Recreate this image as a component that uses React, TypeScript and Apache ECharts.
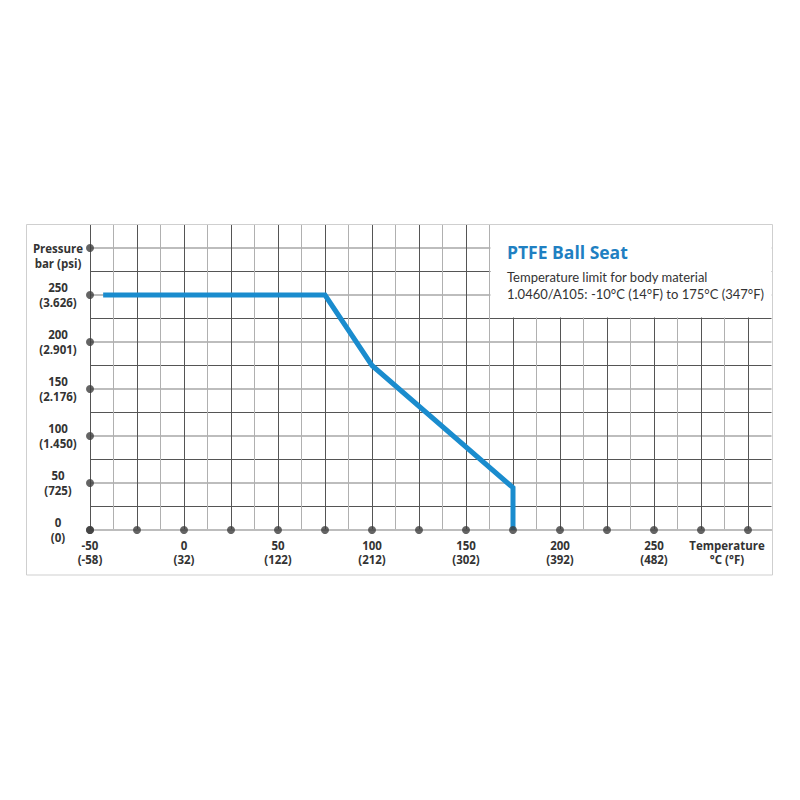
import React, { useEffect, useRef } from "react";
import * as echarts from "echarts";

// Axis ticks (°C and bar) and their secondary unit labels
const tempTicksC = [-50, -25, 0, 25, 50, 75, 100, 125, 150, 175, 200, 225, 250, 275, 300];
const tempLabelValues = [-50, 0, 50, 100, 150, 200, 250];
const tempLabelsF = ["(-58)", "(32)", "(122)", "(212)", "(302)", "(392)", "(482)"];
const pressureTicksBar = [0, 50, 100, 150, 200, 250, 300];
const pressureLabelValues = [0, 50, 100, 150, 200, 250];
const pressureLabelsPsi = ["(0)", "(725)", "(1.450)", "(2.176)", "(2.901)", "(3.626)"];

// Pressure/temperature curve
const curveTemp = [-43, 75, 100, 175, 175];
const curvePressure = [250, 250, 175, 45, 0];

const titleText = "PTFE Ball Seat";
const noteLines = [
  "Temperature limit for body material",
  "1.0460/A105: -10°C (14°F) to 175°C (347°F)",
];

const LABEL_FONT = "'Open Sans', Lato, sans-serif";
const TEXT_FONT = "Lato, 'Open Sans', sans-serif";

export default function App() {
  const ref = useRef<HTMLDivElement>(null);
  useEffect(() => {
    if (!ref.current) return;
    const chart = echarts.init(ref.current, undefined, { renderer: "svg" });

    const dots: number[][] = [];
    tempTicksC.forEach((t) => dots.push([t, 0]));
    pressureTicksBar.forEach((p) => dots.push([-50, p]));

    const labelBase = {
      color: "#333",
      fontFamily: LABEL_FONT,
      fontWeight: "bold",
      fontSize: 11.5,
    };

    const option: any = {
      animation: false,
      backgroundColor: "#fff",
      grid: {
        left: 90,
        right: 28.5,
        top: 224.5,
        bottom: 270,
        containLabel: false,
        outerBoundsMode: "none",
      },
      xAxis: {
        type: "value",
        min: -50,
        max: 312.5,
        interval: 12.5,
        axisLine: { show: true, lineStyle: { color: "#bdbdbd", width: 2 } },
        axisTick: { show: false },
        splitLine: {
          show: true,
          showMaxLine: false,
          lineStyle: { color: ["#555", "#b0b0b0"], width: 1 },
        },
        axisLabel: {
          ...labelBase,
          margin: 8,
          lineHeight: 14,
          showMaxLabel: false,
          hideOverlap: false,
          formatter: (v: number) => {
            const i = tempLabelValues.indexOf(v);
            if (i >= 0) return v + "\n" + tempLabelsF[i];
            if (v === 300) return "{t|Temperature}\n{t|°C (°F)}";
            return "";
          },
          rich: {
            t: {
              ...labelBase,
              padding: [0, 42, 0, 0],
              lineHeight: 14,
            },
          },
        },
      },
      yAxis: [
        {
          type: "value",
          min: 0,
          max: 325,
          interval: 50,
          axisLine: { show: true, lineStyle: { color: "#555", width: 1 } },
          axisTick: { show: false },
          splitLine: {
            show: true,
            showMaxLine: false,
            lineStyle: { color: "#bdbdbd", width: 2 },
          },
          axisLabel: {
            ...labelBase,
            margin: 32,
            align: "center",
            lineHeight: 15,
            showMaxLabel: false,
            formatter: (v: number) => {
              const i = pressureLabelValues.indexOf(v);
              if (i >= 0) return v + "\n" + pressureLabelsPsi[i];
              if (v === 300) return "\nPressure\nbar (psi)";
              return "";
            },
          },
        },
        {
          type: "value",
          min: 0,
          max: 325,
          interval: 25,
          position: "left",
          axisLine: { show: false },
          axisTick: { show: false },
          axisLabel: { show: false },
          splitLine: {
            show: true,
            showMaxLine: false,
            lineStyle: { color: ["rgba(0,0,0,0)", "#555"], width: 1 },
          },
        },
      ],
      series: [
        {
          type: "line",
          xAxisIndex: 0,
          yAxisIndex: 0,
          data: curveTemp.map((t, i) => [t, curvePressure[i]]),
          showSymbol: false,
          symbol: "none",
          lineStyle: { color: "#1a8cce", width: 5, cap: "butt", join: "miter" },
          z: 3,
          markArea: {
            silent: true,
            itemStyle: { color: "#ffffff", opacity: 1 },
            data: [[{ coord: [163, 226] }, { coord: [312.5, 325] }]],
          },
        },
        {
          type: "scatter",
          xAxisIndex: 0,
          yAxisIndex: 0,
          data: dots,
          symbol: "circle",
          symbolSize: 8,
          itemStyle: { color: "#3d3d3d" },
          clip: false,
          silent: true,
          z: 5,
        },
      ],
      graphic: [
        {
          type: "rect",
          shape: { x: 26.5, y: 224.5, width: 746, height: 350.5 },
          style: { fill: "none", stroke: "#cfcfcf", lineWidth: 1 },
          z: 10,
        },
        {
          type: "text",
          x: 507,
          y: 252,
          style: {
            text: titleText,
            fill: "#1f80c2",
            font: "bold 17.5px " + LABEL_FONT,
            verticalAlign: "middle",
            align: "left",
          },
          z: 10,
        },
        {
          type: "text",
          x: 507,
          y: 277,
          style: {
            text: noteLines[0],
            fill: "#333",
            font: "13px " + TEXT_FONT,
            verticalAlign: "middle",
            align: "left",
          },
          z: 10,
        },
        {
          type: "text",
          x: 507,
          y: 294,
          style: {
            text: noteLines[1],
            fill: "#333",
            font: "13px " + TEXT_FONT,
            verticalAlign: "middle",
            align: "left",
          },
          z: 10,
        },
      ],
    };
    chart.setOption(option);
    return () => chart.dispose();
  }, []);

  return (
    <div
      ref={ref}
      style={{ position: "fixed", left: 0, top: 0, width: 800, height: 800, background: "#fff" }}
    />
  );
}
